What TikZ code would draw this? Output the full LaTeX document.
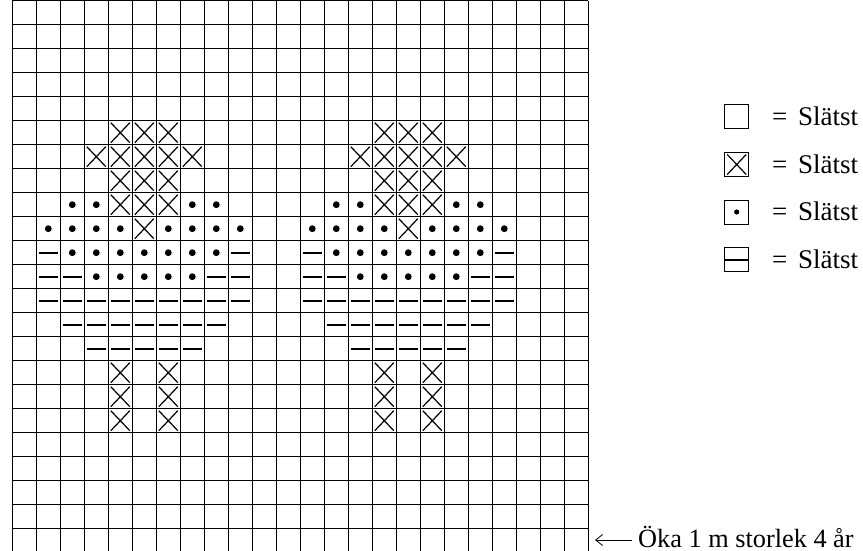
\documentclass[tikz,border=0pt]{standalone}
\usepackage{fontspec}
\setmainfont{Liberation Serif}
\usetikzlibrary{arrows.meta}
\tikzset{
  chartline/.style={line width=1.2pt},
  crossmark/.style={line width=1.2pt},
  barmark/.style={line width=1.8pt},
  keybox/.style={draw, line width=0.8pt, minimum size=24pt, inner sep=0pt},
  keytext/.style={font=\fontsize{27}{32}\selectfont, anchor=base west, inner sep=0pt},
  keyarrow/.style={{Straight Barb[length=7pt,width=11pt]}-, line width=0.8pt},
  xsym/.pic={\draw[crossmark] (-9.5,-10) -- (9.5,10) (-9.5,10) -- (9.5,-10);},
  dotsym/.pic={\fill (0,0) circle (3.4);},
  barsym/.pic={\draw[barmark] (-9.5,0) -- (9.5,0);},
}

\begin{document}
\begin{tikzpicture}[x=1pt, y=-1pt]
  \clip (0,0) rectangle (863,551);
  \foreach \i in {0,...,24} \draw[chartline] ({12.3+24*\i},0.7) -- ({12.3+24*\i},553);
  \foreach \j in {0,...,23} \draw[chartline] (12.3,{0.7+24*\j}) -- (588.3,{0.7+24*\j});
  \foreach \o in {0,11} {
    \foreach \c/\r in {4/5,5/5,6/5,3/6,4/6,5/6,6/6,7/6,4/7,5/7,6/7,4/8,5/8,6/8,5/9,
                       4/15,6/15,4/16,6/16,4/17,6/17}
      \pic at ({24.3+24*(\c+\o)},{12.7+24*\r}) {xsym};
    \foreach \c/\r in {2/8,3/8,7/8,8/8,1/9,2/9,3/9,4/9,6/9,7/9,8/9,9/9,
                       2/10,3/10,4/10,5/10,6/10,7/10,8/10,3/11,4/11,5/11,6/11,7/11}
      \pic at ({24.3+24*(\c+\o)},{12.7+24*\r}) {dotsym};
    \foreach \c/\r in {1/10,9/10,1/11,2/11,8/11,9/11,
                       1/12,2/12,3/12,4/12,5/12,6/12,7/12,8/12,9/12,
                       2/13,3/13,4/13,5/13,6/13,7/13,8/13,3/14,4/14,5/14,6/14,7/14}
      \pic at ({24.3+24*(\c+\o)},{12.7+24*\r}) {barsym};
  }
  \node[keybox] (keyplain) at (736.7,116.7) {};
  \node[keybox] (keycross) at (736.7,164.5) {};
  \node[keybox] (keydot) at (736.7,212) {};
  \node[keybox] (keybar) at (736.7,259.6) {};
  \pic at (keycross.center) {xsym};
  \fill (keydot.center) circle (2.6);
  \draw[barmark] (keybar.west) -- (keybar.east);
  \node[keytext] (txtplain) at (772,125.2) {=\hspace{4pt} Slätst};
  \node[keytext] (txtcross) at (772,173) {=\hspace{4pt} Slätst};
  \node[keytext] (txtdot) at (772,220.5) {=\hspace{4pt} Slätst};
  \node[keytext] (txtbar) at (772,268) {=\hspace{4pt} Slätst};
  \node[keytext, font=\fontsize{26.3}{32}\selectfont] (oka) at (638,547) {Öka 1 m storlek 4 år};
  \coordinate (arrhead) at (595,540);
  \draw[keyarrow] (arrhead) -- ([xshift=-6pt,yshift=7pt]oka.base west);
\end{tikzpicture}
\end{document}
